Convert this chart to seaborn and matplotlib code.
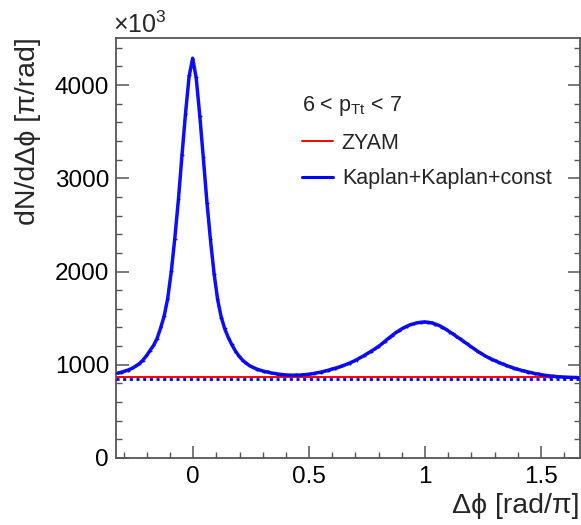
import numpy as np
import pandas as pd
import matplotlib
matplotlib.use("Agg")
import matplotlib.pyplot as plt
from matplotlib.lines import Line2D
from matplotlib.ticker import MultipleLocator
import seaborn as sns

# ---------------- data ----------------
N_BINS = 130
X_MIN, X_MAX = -1.0 / 3.0, 5.0 / 3.0

data_values = [
    916, 916, 940, 938, 965, 996, 1006, 1038, 1102, 1148,
    1209, 1274, 1402, 1520, 1703, 2003, 2347, 2776, 3248, 3690,
    4106, 4278, 4084, 3665, 3226, 2736, 2344, 1976, 1708, 1506,
    1390, 1289, 1223, 1140, 1096, 1044, 1023, 988, 980, 949,
    944, 923, 929, 909, 912, 891, 900, 888, 891, 882,
    897, 885, 899, 888, 904, 902, 924, 916, 935, 938,
    960, 956, 980, 986, 1011, 1012, 1038, 1046, 1087, 1093,
    1126, 1135, 1172, 1191, 1233, 1247, 1291, 1311, 1353, 1360,
    1396, 1406, 1437, 1436, 1457, 1445, 1464, 1453, 1459, 1430,
    1427, 1398, 1383, 1347, 1338, 1299, 1284, 1248, 1232, 1189,
    1174, 1139, 1130, 1090, 1078, 1049, 1047, 1021, 1017, 987,
    982, 956, 959, 939, 940, 916, 919, 902, 908, 886,
    889, 873, 884, 868, 880, 865, 872, 858, 868, 861,
]

fit_values = [
    910, 920, 931, 945, 962, 984, 1011, 1048, 1094, 1151,
    1205, 1280, 1392, 1522, 1711, 1998, 2359, 2769, 3245, 3696,
    4092, 4288, 4075, 3670, 3215, 2745, 2338, 1980, 1700, 1513,
    1385, 1292, 1214, 1148, 1092, 1050, 1016, 990, 970, 954,
    941, 930, 921, 913, 906, 900, 895, 891, 889, 888,
    888, 889, 892, 896, 901, 907, 914, 922, 931, 941,
    952, 963, 975, 988, 1002, 1018, 1035, 1054, 1075, 1097,
    1120, 1144, 1168, 1194, 1222, 1254, 1286, 1316, 1345, 1370,
    1393, 1412, 1428, 1440, 1450, 1456, 1459, 1456, 1449, 1438,
    1423, 1404, 1381, 1356, 1330, 1304, 1278, 1251, 1223, 1196,
    1169, 1143, 1119, 1096, 1075, 1057, 1040, 1023, 1007, 992,
    978, 965, 953, 942, 932, 923, 914, 906, 899, 892,
    886, 881, 877, 873, 870, 868, 866, 865, 864, 863,
]

data_err = 12
zyam_level = 870
fit_const = 852

x_ticks = [0, 0.5, 1, 1.5]
x_tick_labels = ["0", "0.5", "1", "1.5"]
y_ticks = [0, 1000, 2000, 3000, 4000]
y_tick_labels = ["0", "1000", "2000", "3000", "4000"]

legend_header = r"6 < p$_{\mathregular{Tt}}$ < 7"
legend_labels = ["ZYAM", "Kaplan+Kaplan+const"]
x_title = "Δϕ [rad/π]"
y_title = "dN/dΔϕ [π/rad]"

# ---------------- style ----------------
sns.set_theme(style="white")
plt.rcParams["font.family"] = ["Liberation Sans", "DejaVu Sans"]
plt.rcParams["mathtext.fontset"] = "custom"
plt.rcParams["mathtext.rm"] = "Liberation Sans"
plt.rcParams["mathtext.it"] = "Liberation Sans:italic"
plt.rcParams["mathtext.bf"] = "Liberation Sans:bold"

W, H = 581, 525
fig = plt.figure(figsize=(W / 100, H / 100), dpi=100)
fig.patch.set_facecolor("white")
ax_l, ax_r, ax_t, ax_b = 116, 579.5, 37.5, 458
ax = fig.add_axes([ax_l / W, 1 - ax_b / H, (ax_r - ax_l) / W, (ax_b - ax_t) / H])
ax.set_facecolor("white")

edges = np.linspace(X_MIN, X_MAX, N_BINS + 1)
centers = 0.5 * (edges[:-1] + edges[1:])
half_w = 0.5 * (edges[1] - edges[0])
df = pd.DataFrame({"dphi": centers, "counts": data_values, "fit": fit_values})

# data points with error bars
ax.errorbar(df["dphi"], df["counts"], yerr=data_err, xerr=half_w, fmt="none",
            ecolor="#3a3a3a", elinewidth=1.0, zorder=2)

# ZYAM and fit constant
ax.axhline(zyam_level, color="#ff0000", lw=1.4, zorder=3)
ax.axhline(fit_const, color="#0000ff", lw=2.0, ls=(0, (1.1, 1.3)), zorder=3)

# fit curve
sns.lineplot(data=df, x="dphi", y="fit", color="#0000ff", lw=2.5, ax=ax,
             legend=False, sort=False, zorder=4, alpha=0.95)

ax.set_xlim(X_MIN, X_MAX)
ax.set_ylim(0, 4510)
ax.set_xticks(x_ticks)
ax.set_xticklabels(x_tick_labels)
ax.set_yticks(y_ticks)
ax.set_yticklabels(y_tick_labels)
ax.xaxis.set_minor_locator(MultipleLocator(0.1))
ax.yaxis.set_minor_locator(MultipleLocator(200))

spine_c = "#555555"
for s in ax.spines.values():
    s.set_visible(True)
    s.set_color(spine_c)
    s.set_linewidth(1.3)

ax.tick_params(which="both", direction="in", left=True, right=True,
               bottom=True, top=False, color=spine_c, labelcolor="black")
ax.tick_params(which="major", length=9, width=1.1, labelsize=17.5)
ax.tick_params(which="minor", length=4.5, width=1.0)
ax.tick_params(axis="y", which="major", pad=5)
ax.tick_params(axis="x", which="major", pad=6)

ax.set_xlabel(x_title, fontsize=20.5, loc="right")
ax.xaxis.set_label_coords(1.0, -0.083)
ax.set_ylabel(y_title, fontsize=20.5, loc="top")
ax.yaxis.set_label_coords(-0.162, 1.0)

fig.text(113 / W, 1 - 33 / H, r"$\times$10$^{\mathregular{3}}$", fontsize=18,
         ha="left", va="baseline")

handles = [Line2D([], [], color="#ff0000", lw=1.4),
           Line2D([], [], color="#0000ff", lw=2.2)]
leg = ax.legend(handles, legend_labels, title=legend_header, loc="upper left",
                bbox_to_anchor=(302 / W, 1 - 94 / H), bbox_transform=fig.transFigure,
                frameon=False, fontsize=15.5, title_fontsize=15.5,
                handlelength=1.45, handletextpad=0.4, labelspacing=0.68,
                borderpad=0, borderaxespad=0)
leg._legend_box.align = "left"

fig.savefig("out.png", dpi=100, facecolor="white")
